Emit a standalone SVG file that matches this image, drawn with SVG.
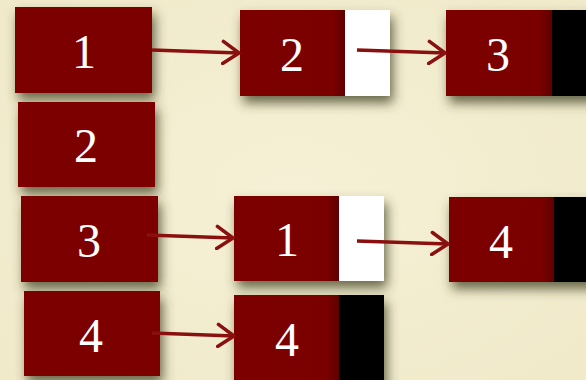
<svg xmlns="http://www.w3.org/2000/svg" width="586" height="380" viewBox="0 0 586 380">
<defs>
<filter id="sh" x="-20%" y="-20%" width="150%" height="160%">
<feDropShadow dx="3" dy="7" stdDeviation="6" flood-color="#3a3a1a" flood-opacity="0.75"/>
</filter>
<linearGradient id="rg" x1="0" x2="1" y1="0" y2="0">
<stop offset="0" stop-color="#7d0000"/>
<stop offset="0.88" stop-color="#7a0000"/>
<stop offset="1" stop-color="#600000"/>
</linearGradient>
<radialGradient id="bg" cx="0.5" cy="0.5" r="0.8">
<stop offset="0" stop-color="#f6f1d6"/>
<stop offset="1" stop-color="#efe8c8"/>
</radialGradient>
<marker id="ah" viewBox="0 0 20 26" refX="18" refY="13" markerWidth="20" markerHeight="26" markerUnits="userSpaceOnUse" orient="auto">
<path d="M2,2 L18,13 L2,24" fill="none" stroke="#8a1010" stroke-width="3.5" stroke-linecap="round" stroke-linejoin="round"/>
</marker>
</defs>
<style>
.r{fill:#7c0000;filter:url(#sh)}
.rg{fill:url(#rg)}
.w{fill:#ffffff}
.k{fill:#000000}
.t{font-family:"Liberation Serif",serif;font-size:48px;fill:#ffffff;text-anchor:middle}
.c{stroke:#8a1010;stroke-width:3.5;fill:none;marker-end:url(#ah)}
</style>
<rect width="586" height="380" fill="url(#bg)"/>
<g id="n1"><rect class="r" x="15" y="7" width="137" height="86"/><text class="t" x="84" y="68">1</text></g>
<g id="n2"><rect class="r" x="18" y="102" width="137" height="85"/><text class="t" x="86" y="162">2</text></g>
<g id="n3"><rect class="r" x="21" y="196" width="137" height="86"/><text class="t" x="89" y="257">3</text></g>
<g id="n4"><rect class="r" x="24" y="291" width="136" height="85"/><text class="t" x="91" y="352">4</text></g>
<g id="l1a"><rect class="r" x="240" y="10" width="150" height="86"/><rect class="rg" x="240" y="10" width="105" height="86"/><rect class="w" x="345" y="10" width="45" height="86"/><text class="t" x="292" y="71">2</text></g>
<g id="l1b"><rect class="r" x="446" y="10" width="150" height="86"/><rect class="rg" x="446" y="10" width="106" height="86"/><rect class="k" x="552" y="10" width="40" height="86"/><text class="t" x="498" y="71">3</text></g>
<g id="l3a"><rect class="r" x="234" y="196" width="150" height="85"/><rect class="rg" x="234" y="196" width="105" height="85"/><rect class="w" x="339" y="196" width="45" height="85"/><text class="t" x="287" y="256">1</text></g>
<g id="l3b"><rect class="r" x="449" y="197" width="150" height="85"/><rect class="rg" x="449" y="197" width="105" height="85"/><rect class="k" x="554" y="197" width="40" height="85"/><text class="t" x="501" y="258">4</text></g>
<g id="l4a"><rect class="r" x="234" y="295" width="150" height="90"/><rect class="rg" x="234" y="295" width="105" height="90"/><rect class="k" x="339" y="295" width="45" height="90"/><text class="t" x="287" y="356">4</text></g>
<g id="connectors">
<line class="c" x1="152" y1="50" x2="239" y2="53"/>
<line class="c" x1="357" y1="50" x2="445" y2="53"/>
<line class="c" x1="147" y1="235" x2="233" y2="238"/>
<line class="c" x1="357" y1="241" x2="448" y2="244"/>
<line class="c" x1="152" y1="333" x2="234" y2="336"/>
</g>
</svg>
